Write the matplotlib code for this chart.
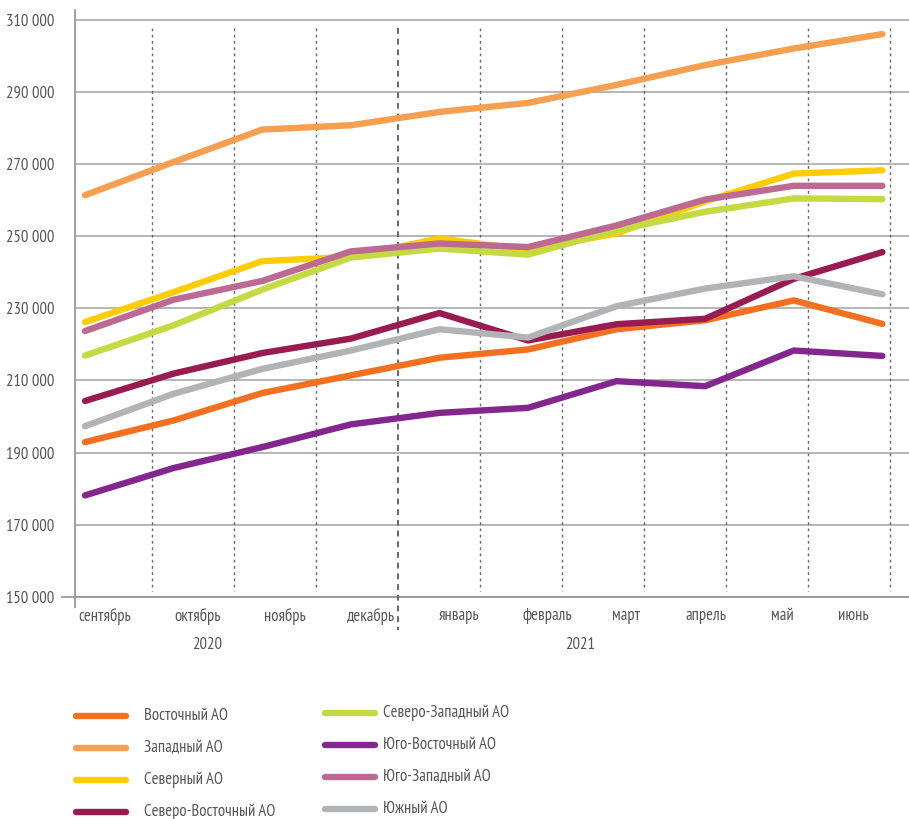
import numpy as np
import matplotlib
matplotlib.use('Agg')
from matplotlib import pyplot as plt
from matplotlib.lines import Line2D

plt.rcParams['font.family'] = ['PT Sans Narrow', 'Roboto Condensed', 'DejaVu Sans']

###### Data
months = ['сентябрь', 'октябрь', 'ноябрь', 'декабрь', 'январь',
          'февраль', 'март', 'апрель', 'май', 'июнь']
years = ['2020', '2021']

vostochny = [192900, 198900, 206500, 211400, 216300, 218600, 224200, 226700, 232200, 225700]
zapadny = [261400, 270600, 279600, 280800, 284500, 287000, 292000, 297500, 302100, 306100]
severny = [226200, 234500, 243100, 244300, 249400, 246200, 250800, 259700, 267400, 268300]
sev_vost = [204300, 211900, 217600, 221600, 228700, 221100, 225600, 227100, 238200, 245600]
sev_zap = [216900, 225300, 235200, 244100, 246600, 244900, 251700, 256800, 260500, 260300]
yug_vost = [178100, 185700, 191500, 197800, 201000, 202400, 209800, 208400, 218300, 216800]
yug_zap = [223700, 232400, 237600, 245800, 248000, 247000, 253000, 260200, 264000, 264000]
yuzhny = [197300, 206300, 213200, 218300, 224200, 221900, 230600, 235500, 238900, 233900]

names = ['Восточный АО', 'Западный АО', 'Северный АО', 'Северо-Восточный АО',
         'Северо-Западный АО', 'Юго-Восточный АО', 'Юго-Западный АО', 'Южный АО']
series = [vostochny, zapadny, severny, sev_vost, sev_zap, yug_vost, yug_zap, yuzhny]
colors = ['#F37021', '#F79F51', '#FFCC05', '#981B52',
          '#C5D942', '#83268E', '#BC6A93', '#B2B3B6']
# drawing order (bottom -> top)
z_order = [1, 0, 2, 4, 6, 5, 3, 7]

y_ticks = np.arange(150000, 310001, 20000)

###### Figure
W, H = 909, 819
fig = plt.figure(figsize=(W / 100, H / 100), dpi=100)
ax = fig.add_axes([75 / W, (H - 607) / H, (W - 75) / W, 597 / H])

x = np.arange(len(months))
for k in z_order:
    ax.plot(x, series[k], color=colors[k], lw=4.6, solid_capstyle='round',
            solid_joinstyle='round', zorder=3 + z_order.index(k))

ax.set_xlim((75 - 85) / 88.6, (W - 85) / 88.6)
ax.set_ylim(150000 - 10.3 / 3.6 * 1000, 310000 + 10 / 3.6 * 1000)

# horizontal grid
for v in y_ticks:
    ax.axhline(v, color='#b5b5b5', lw=1.4, zorder=1)
ax.axhline(150000, xmin=-(75 - 62) / (W - 75), xmax=1, color='#9a9a9a', lw=1.3,
           clip_on=False, zorder=2)

# vertical dotted separators
for i in range(10):
    xf = (152 + 82 * i - 75) / (W - 75)
    if i == 3:
        ax.plot([xf, xf], [(607 - 28) / 597, (607 - 630) / 597], transform=ax.transAxes,
                color='#666666', lw=1.4, ls=(0, (3, 2.5)), clip_on=False, zorder=2)
    else:
        ax.plot([xf, xf], [(607 - 28) / 597, (607 - 591) / 597], transform=ax.transAxes,
                color='#666666', lw=1.0, ls=(0, (2, 2.5)), zorder=2)

ax.set_yticks(y_ticks)
ax.set_yticklabels([f'{v:,}'.replace(',', ' ') for v in y_ticks])
ax.tick_params(axis='y', length=0, pad=15, labelsize=12, labelcolor='#555555')
ax.set_xticks([])

for s in ['top', 'right', 'bottom']:
    ax.spines[s].set_visible(False)
ax.spines['left'].set_color('#999999')
ax.spines['left'].set_linewidth(1.3)

# month labels and years
label_px = [105, 198, 285, 371, 459, 547, 626, 706, 782, 853]
for lab, px in zip(months, label_px):
    fig.text(px / W, 1 - 616 / H, lab, ha='center', va='center', fontsize=12, color='#555555')
year_px = [207, 580]
for lab, px in zip(years, year_px):
    fig.text(px / W, 1 - 645 / H, lab, ha='center', va='center', fontsize=12, color='#555555')

# legend, two columns drawn by hand
for i, (name, c) in enumerate(zip(names, colors)):
    col, row = divmod(i, 4)
    x0 = 76 if col == 0 else 325
    y0 = (716 if col == 0 else 713) + 32 * row
    fig.add_artist(Line2D([x0 / W, (x0 + 50) / W], [1 - y0 / H, 1 - y0 / H], color=c,
                          lw=4.6, solid_capstyle='round'))
    fig.text((x0 + 68) / W if col == 0 else (x0 + 58) / W, 1 - y0 / H, name,
             ha='left', va='center', fontsize=12, color='#555555')

fig.savefig('out.png', dpi=100)
